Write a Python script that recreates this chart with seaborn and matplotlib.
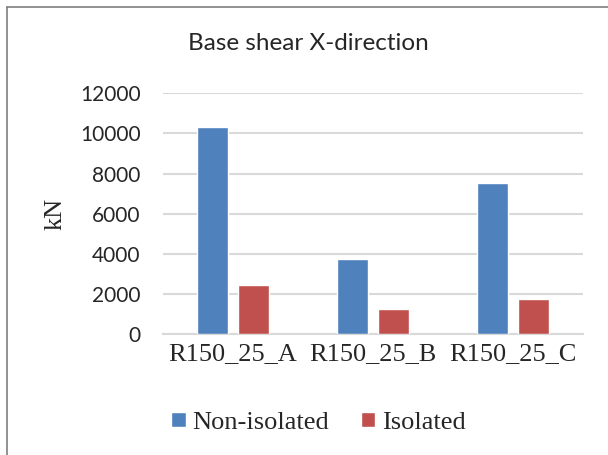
import numpy as np
import pandas as pd
import matplotlib.pyplot as plt
import seaborn as sns

# values (kN)
models = ["R150_25_A", "R150_25_B", "R150_25_C"]
non_isolated = [10300, 3750, 7540]
isolated = [2450, 1260, 1740]
series = ["Non-isolated", "Isolated"]
yticks = [0, 2000, 4000, 6000, 8000, 10000, 12000]

df = pd.DataFrame({
    "model": models * 2,
    "case": [series[0]] * 3 + [series[1]] * 3,
    "kN": non_isolated + isolated,
})

sns.set_style("white")
plt.rcParams['font.family'] = ['Lato', 'DejaVu Sans']

fig = plt.figure(figsize=(6.08, 4.55), dpi=100)
ax = fig.add_axes([0.268, 0.2653, 0.691, 0.5297])

sns.barplot(data=df, x="model", y="kN", hue="case", ax=ax,
            palette=["#4F81BD", "#C0504D"], width=0.574, gap=0.23,
            saturation=1, errorbar=None, zorder=3)

ax.set_ylim(0, 12000)
ax.set_xlim(-0.5, 2.5)
ax.set_yticks(yticks)
ax.set_yticklabels([str(v) for v in yticks], fontsize=15)
ax.tick_params(axis='y', length=0, pad=16)
ax.tick_params(axis='x', length=0, pad=6)
for lab in ax.get_xticklabels():
    lab.set_fontfamily('Liberation Serif')
    lab.set_fontsize(19)
ax.grid(axis='y', color='#D9D9D9', linewidth=1.5, zorder=0)
for s in ["top", "right", "left"]:
    ax.spines[s].set_visible(False)
ax.spines["bottom"].set_color('#D9D9D9')
ax.spines["bottom"].set_linewidth(1.5)

ax.set_xlabel("")
ax.set_ylabel("kN", fontfamily='Liberation Serif', fontsize=19, labelpad=10)

fig.text(0.508, 0.905, "Base shear X-direction", ha='center', va='center', fontsize=17.5)

ax.legend(loc='upper center', bbox_to_anchor=(0.37, -0.222), ncol=2, frameon=False,
          prop={'family': 'Liberation Serif', 'size': 19},
          handlelength=0.55, handleheight=0.55, handletextpad=0.25, columnspacing=1.2)

# frame edge of the original cropped chart (left and top only)
fig.add_artist(plt.Line2D([0.0123, 0.0123], [0, 0.985], color='#7F7F7F', linewidth=1.2))
fig.add_artist(plt.Line2D([0.0123, 1], [0.985, 0.985], color='#7F7F7F', linewidth=1.2))

plt.savefig('out.png', dpi=100)
